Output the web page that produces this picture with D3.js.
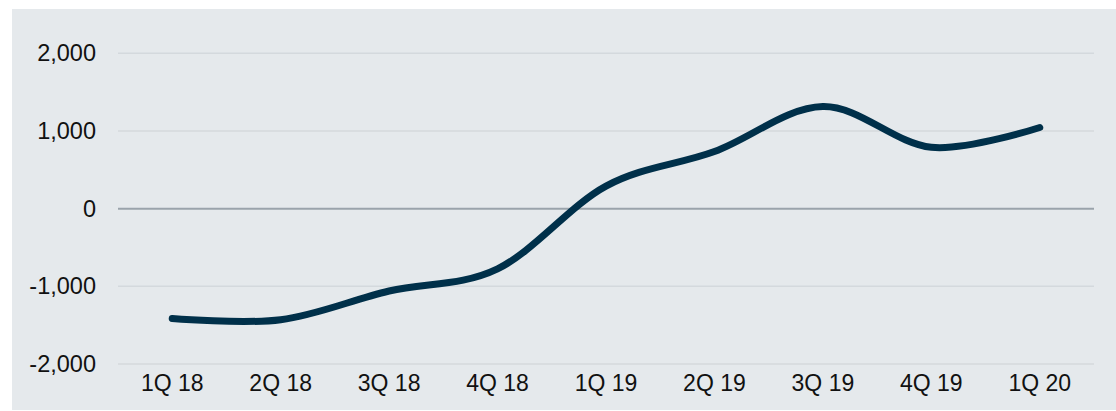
<!DOCTYPE html>
<html>
<head>
<meta charset="utf-8">
<script src="https://cdn.jsdelivr.net/npm/d3@7/dist/d3.min.js"></script>
<style>
  html, body { margin: 0; padding: 0; background: #ffffff; }
  svg { display: block; }
  text { font-family: "Liberation Sans", Arial, sans-serif; fill: #111111; }
</style>
</head>
<body>
<svg id="chart" width="1116" height="411"></svg>
<script>
const categories = ["1Q 18", "2Q 18", "3Q 18", "4Q 18", "1Q 19", "2Q 19", "3Q 19", "4Q 19", "1Q 20"];
const values = [-1415, -1430, -1060, -775, 290, 735, 1315, 790, 1045];
const yTicks = [-2000, -1000, 0, 1000, 2000];

const W = 1116, H = 411;
const svg = d3.select("#chart");

svg.append("rect")
  .attr("x", 12).attr("y", 9)
  .attr("width", W - 12).attr("height", H - 10)
  .attr("fill", "#e5e9ec");

const x = d3.scaleBand().domain(categories).range([118, 1094]).paddingInner(0).paddingOuter(0);
const y = d3.scaleLinear().domain([-2000, 2000]).range([364, 53.3]);

const grid = svg.append("g");
grid.selectAll("line").data(yTicks.filter(d => d !== 0)).join("line")
  .attr("x1", 118).attr("x2", 1094)
  .attr("y1", d => y(d)).attr("y2", d => y(d))
  .attr("stroke", "#d4d9dd").attr("stroke-width", 1.5);

svg.append("line")
  .attr("x1", 118).attr("x2", 1094)
  .attr("y1", y(0)).attr("y2", y(0))
  .attr("stroke", "#9aa3ab").attr("stroke-width", 2);

const fmt = d3.formatLocale({decimal: ".", thousands: ",", grouping: [3], currency: ["", ""], minus: "-"}).format(",");
const yAxis = d3.axisLeft(y).tickValues(yTicks).tickSize(0).tickPadding(0).tickFormat(d => fmt(d));
const ya = svg.append("g").attr("transform", "translate(96,0)").call(yAxis);
ya.select(".domain").remove();
ya.selectAll("text").attr("font-size", "23.5px").attr("fill", "#111").attr("font-family", "Liberation Sans, Arial, sans-serif");

const xAxis = d3.axisBottom(x).tickSize(0).tickPadding(0);
const xa = svg.append("g").attr("transform", "translate(0,375)").call(xAxis);
xa.select(".domain").remove();
xa.selectAll("text").attr("font-size", "23px").attr("fill", "#111").attr("font-family", "Liberation Sans, Arial, sans-serif");

const line = d3.line()
  .x((d, i) => x(categories[i]) + x.bandwidth() / 2)
  .y(d => y(d))
  .curve(d3.curveCardinal.tension(0));

svg.append("path")
  .datum(values)
  .attr("d", line)
  .attr("fill", "none")
  .attr("stroke", "#00304a")
  .attr("stroke-width", 7)
  .attr("stroke-linecap", "round")
  .attr("stroke-linejoin", "round");
</script>
</body>
</html>
